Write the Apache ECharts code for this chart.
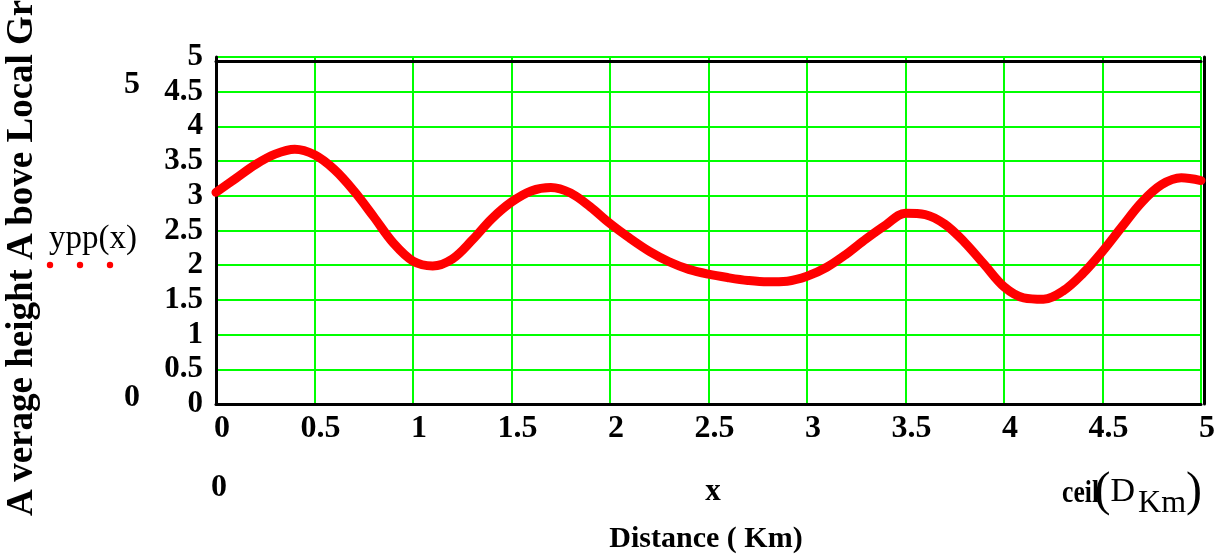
<!DOCTYPE html>
<html>
<head>
<meta charset="utf-8">
<script src="https://cdn.jsdelivr.net/npm/echarts@6/dist/echarts.min.js"></script>
<style>
  html, body { margin: 0; padding: 0; background: #ffffff; }
  #chart { width: 1221px; height: 559px; }
</style>
</head>
<body>
<div id="chart"></div>
<script>
// Sampled profile: distance (km) and average height above local ground
const distanceKm = [0, 0.1, 0.2, 0.3, 0.4, 0.5, 0.6, 0.7, 0.8, 0.9,
                    1.0, 1.1, 1.2, 1.3, 1.4, 1.5, 1.6, 1.7, 1.8, 1.9,
                    2.0, 2.1, 2.2, 2.3, 2.4, 2.5, 2.6, 2.7, 2.8, 2.9,
                    3.0, 3.1, 3.2, 3.3, 3.4, 3.5, 3.6, 3.7, 3.8, 3.9,
                    4.0, 4.1, 4.2, 4.3, 4.4, 4.5, 4.6, 4.7, 4.8, 4.9, 5.0];
const heightYpp = [3.05, 3.25, 3.45, 3.60, 3.67, 3.59, 3.38, 3.07, 2.70, 2.32,
                   2.06, 1.99, 2.09, 2.36, 2.67, 2.91, 3.07, 3.12, 3.04, 2.84,
                   2.60, 2.39, 2.20, 2.05, 1.94, 1.87, 1.82, 1.78, 1.76, 1.77,
                   1.84, 1.97, 2.16, 2.38, 2.58, 2.75, 2.73, 2.59, 2.33, 2.01,
                   1.69, 1.53, 1.51, 1.63, 1.88, 2.20, 2.56, 2.91, 3.16, 3.26, 3.22];
const xTicks = [0, 0.5, 1, 1.5, 2, 2.5, 3, 3.5, 4, 4.5, 5];
const yTicks = [0, 0.5, 1, 1.5, 2, 2.5, 3, 3.5, 4, 4.5, 5];

const points = distanceKm.map((d, i) => [d, heightYpp[i]]);
const serif = '"Liberation Serif", "Times New Roman", serif';
const tickFmt = v => String(Math.round(v * 10) / 10);

const chart = echarts.init(document.getElementById('chart'), null, { renderer: 'canvas' });

chart.setOption({
  backgroundColor: '#ffffff',
  animation: false,
  grid: { left: 216, right: 20, top: 57, bottom: 155, containLabel: false },
  xAxis: [{
    type: 'value', min: xTicks[0], max: xTicks[xTicks.length - 1], interval: 0.5,
    position: 'bottom',
    axisLine: { show: true, onZero: false, lineStyle: { color: '#000000', width: 3 } },
    axisTick: { show: false },
    splitLine: { show: true, lineStyle: { color: '#00ff00', width: 2 } },
    axisLabel: { formatter: tickFmt, fontFamily: serif, fontWeight: 'bold', fontSize: 32,
                 color: '#000000', margin: 9, padding: [0, 0, 0, 12],
                 showMinLabel: true, showMaxLabel: true, hideOverlap: false }
  }, {
    type: 'value', min: 0, max: 5, position: 'top', offset: -4,
    axisLine: { show: true, onZero: false, lineStyle: { color: '#000000', width: 3 } },
    axisTick: { show: false }, axisLabel: { show: false }, splitLine: { show: false }
  }],
  yAxis: [{
    type: 'value', min: yTicks[0], max: yTicks[yTicks.length - 1], interval: 0.5,
    position: 'left',
    axisLine: { show: true, onZero: false, lineStyle: { color: '#000000', width: 3 } },
    axisTick: { show: false },
    splitLine: { show: true, lineStyle: { color: '#00ff00', width: 2 } },
    axisLabel: { formatter: tickFmt, fontFamily: serif, fontWeight: 'bold', fontSize: 31,
                 color: '#000000', margin: 13, padding: [8, 0, 0, 0], lineHeight: 22,
                 showMinLabel: true, showMaxLabel: true, hideOverlap: false }
  }, {
    type: 'value', min: 0, max: 5, position: 'right', offset: 3,
    axisLine: { show: true, onZero: false, lineStyle: { color: '#000000', width: 3 } },
    axisTick: { show: false }, axisLabel: { show: false }, splitLine: { show: false }
  }],
  series: [{
    type: 'line',
    name: 'ypp(x)',
    data: points,
    smooth: 0.35,
    showSymbol: false,
    clip: true,
    lineStyle: { color: '#ff0000', width: 9, cap: 'round', join: 'round' },
    z: 5
  }],
  graphic: [
    // vertical axis title
    { type: 'text', x: 22, y: 516, rotation: Math.PI / 2,
      style: { text: 'A\u2009verage height A\u2009bove Local Ground', fontFamily: serif,
               fontWeight: 'bold', fontSize: 37, fill: '#000000',
               textAlign: 'left', textVerticalAlign: 'middle' } },
    // y range markers
    { type: 'text', x: 132, y: 85,
      style: { text: '5', fontFamily: serif, fontWeight: 'bold', fontSize: 32, fill: '#000000',
               textAlign: 'center', textVerticalAlign: 'middle' } },
    { type: 'text', x: 132, y: 398,
      style: { text: '0', fontFamily: serif, fontWeight: 'bold', fontSize: 32, fill: '#000000',
               textAlign: 'center', textVerticalAlign: 'middle' } },
    // series legend
    { type: 'text', x: 49, y: 239,
      style: { text: 'ypp(x)', fontFamily: serif, fontSize: 33, fill: '#000000',
               textAlign: 'left', textVerticalAlign: 'middle' } },
    { type: 'circle', shape: { cx: 50, cy: 265, r: 3.2 }, style: { fill: '#ff0000' } },
    { type: 'circle', shape: { cx: 80, cy: 265, r: 3.2 }, style: { fill: '#ff0000' } },
    { type: 'circle', shape: { cx: 110, cy: 265, r: 3.2 }, style: { fill: '#ff0000' } },
    // x range markers
    { type: 'text', x: 219, y: 488,
      style: { text: '0', fontFamily: serif, fontWeight: 'bold', fontSize: 32, fill: '#000000',
               textAlign: 'center', textVerticalAlign: 'middle' } },
    { type: 'text', x: 713, y: 492,
      style: { text: 'x', fontFamily: serif, fontWeight: 'bold', fontSize: 31, fill: '#000000',
               textAlign: 'center', textVerticalAlign: 'middle' } },
    { type: 'text', x: 1099, y: 494, scaleX: 0.8,
      style: { text: 'ceil', fontFamily: serif, fontWeight: 'bold', fontSize: 32, fill: '#000000',
               textAlign: 'right', textVerticalAlign: 'middle' } },
    { type: 'text', x: 1202, y: 492,
      style: {
        text: '{p|(}{d|D}{s|Km}{p|)}',
        textAlign: 'right', textVerticalAlign: 'middle',
        rich: {
          p: { fontFamily: serif, fontSize: 48, fill: '#000000', verticalAlign: 'middle', lineHeight: 56 },
          d: { fontFamily: serif, fontSize: 34, fill: '#000000', verticalAlign: 'middle', lineHeight: 56 },
          s: { fontFamily: serif, fontSize: 32, fill: '#000000', verticalAlign: 'bottom', lineHeight: 44, padding: [0, 0, 0, 3] }
        }
      } },
    // x axis title
    { type: 'text', x: 706, y: 539,
      style: { text: 'Distance ( Km)', fontFamily: serif, fontWeight: 'bold', fontSize: 30, fill: '#000000',
               textAlign: 'center', textVerticalAlign: 'middle' } }
  ]
});
</script>
</body>
</html>
